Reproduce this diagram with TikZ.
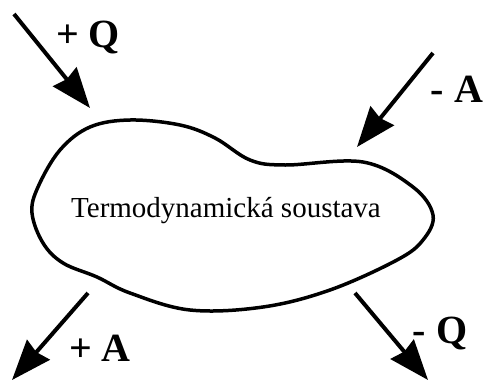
\documentclass[tikz,border=0pt]{standalone}
\usepackage{fontspec}
\setmainfont{Liberation Serif}
\usetikzlibrary{arrows.meta}
\begin{document}
\begin{tikzpicture}[x=1pt,y=-1pt,
  flow/.style={line width=4pt,-{Stealth[length=40pt,width=30pt,inset=3pt]}},
  lbl/.style={font=\fontsize{40}{44}\selectfont\bfseries,inner sep=0pt},
  body/.style={line width=3.5pt}]
\useasboundingbox (0,0) rectangle (483,381);
% system outline
\draw[body] plot[smooth cycle,tension=0.6] coordinates{
 (32,213) (38,187) (60,150) (90,127) (130,120) (180,125) (215,138)
 (250,160) (285,165) (363,162) (413,187) (433,215) (423,240) (397,260)
 (330,290) (263,307) (190,310) (130,293) (97,277) (63,263) (43,243)};
\node[inner sep=0pt,font=\fontsize{29}{32}\selectfont] (sys) at (226,211) {Termodynamická soustava};
% arrow end points
\coordinate (q1s) at (14,14);   \coordinate (q1e) at (90,108);
\coordinate (a1s) at (433,53);  \coordinate (a1e) at (357,147);
\coordinate (a2s) at (88,293);  \coordinate (a2e) at (12,380);
\coordinate (q2s) at (355,293); \coordinate (q2e) at (428,380);
\draw[flow] (q1s) -- (q1e);
\draw[flow] (a1s) -- (a1e);
\draw[flow] (a2s) -- (a2e);
\draw[flow] (q2s) -- (q2e);
% labels
\node[lbl] (lq1) at (88,37) {+ Q};
\node[lbl] (la1) at (457,89) {- A};
\node[lbl] (la2) at (100,348) {+ A};
\node[lbl] (lq2) at (440,333) {- Q};
\end{tikzpicture}
\end{document}
